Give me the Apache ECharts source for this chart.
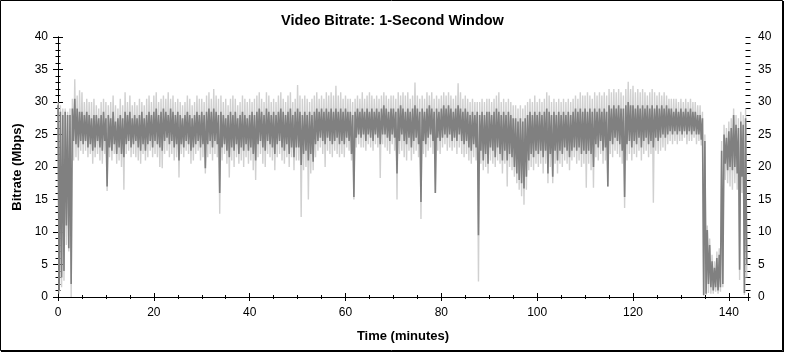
<!DOCTYPE html>
<html>
<head>
<meta charset="utf-8">
<script src="https://cdn.jsdelivr.net/npm/echarts@6.0.0/dist/echarts.min.js"></script>
<style>
html,body{margin:0;padding:0;background:#fff;}
#chart{width:785px;height:353px;}
</style>
</head>
<body>
<div id="chart"></div>
<script>
// ---- Data (Mbps), one bucket every half minute starting at t = 0 ----
const BUCKET_MINUTES = 0.5;
const titleText = 'Video Bitrate: 1-Second Window';
const xAxisName = 'Time (minutes)';
const yAxisName = 'Bitrate (Mbps)';

const darkHi = [
29.5,28.5,28,28.5,28,28,29,30.5,29,28.5,28.5,28,28.5,28,27.5,28,28,27.5,28,28.5,
27.5,28,27.5,28.5,27,27.5,28,27.5,28.5,28,28.5,27.5,28,27.5,28,28.5,27.5,28,28.5,28,
28.5,29,28,28.5,29,28.5,28,29,28.5,28,28.5,28,27.5,28,28.5,28,27.5,28,28.5,28,
28.5,28,28.5,29,28.5,29,28.5,28,28.5,28,27.5,28,28.5,28,28.5,27.5,28,28.5,28,27.5,
28,28.5,28,28.5,29,28.5,28,29,28.5,28,28.5,28,28.5,29,28.5,28,28.5,29,28,28.5,
29,28.5,28,28.5,28,28.5,28,28.5,29,28.5,29,28.5,29,28.5,29,28.5,29,28.5,29,28.5,
29,28.5,28.5,28,28.5,29,28.5,29,28.5,29,28.5,29,28.5,29,28.5,29,29.5,29,28.5,29,
29,28.5,29,29.5,29,28.5,29,28.5,29,29.5,29,28.5,29,28.5,29,29.5,29,28.5,29,28.5,
29,29.5,29,29.5,29,28.5,29,29.5,29,28.5,29,28.5,28,28.5,28,28.5,28,28.5,28,28.5,
28.5,28,28.5,29,28.5,28,28.5,28,28.5,28,27.5,27.5,27,27.5,27,27.5,28,28.5,28,28.5,
28,28.5,28,28.5,29,28.5,28,28.5,28,28.5,28,28.5,28,28.5,28,28.5,29,28.5,29,28.5,
29,28.5,29,28.5,29,28.5,29,28.5,29,28.5,29.5,29,29.5,29,29.5,29,29,29.5,30,29.5,
29.5,29,29.5,29,29.5,29,29.5,29,29.5,29,29.5,29,29.5,29,29.5,29,29,28.5,29,28.5,
29,28.5,29,28.5,29,28.5,28.5,28,28,27.5,24,10.3,8,5.5,4.5,6,6.5,22.5,25,24.5,
25.5,26,28,26.5,26,27,26.5,27.5
];
const darkLo = [
1,3,4,11,7.5,2,24,23.5,23,24,23.5,24,23,23.5,22.5,23,24,23,22.5,24,
17,23,22.5,23.5,22,23,22,21.5,23.5,24,23,23.5,24,23,22.5,23.5,22.5,23.5,24,23,
24,23.5,23,22.5,24,24.5,23.5,24,23,23.5,21,23.5,23,24,23.5,22.5,23,23.5,24,23,
23.5,19.8,23.5,24,23,24,23.5,16,23,23.5,22.5,21.5,23,22.5,23.5,22,23,22.5,23.5,22.5,
23,22,21,23.5,24,23,22.5,24,23.5,23,22,23.5,24,23,22.5,23.5,22,23,21.5,23,
23,20.3,22,22.5,21,22,20.8,23.5,24,24.5,24,23.5,24.5,24,23.5,24,24.5,23.5,24,23.5,
24.5,24,22,15.4,24.5,25,24.5,25,24,25,24.5,24,25,24.5,23.5,25,25,24.5,24,25,
24.5,19,24,25,24,23.5,24.5,23,24,24.5,23.5,14.6,24,23.5,24.5,25,24,16,24.5,24,
24.5,25,24.5,25,24,24.5,24,25,24,23.5,24,23,22.5,23.5,23,9.5,22.5,21,22,20.5,
23,22.5,21.5,23,22,21,22.5,21,22,21.5,20,19,18,17.5,16.7,18.5,21,22,21.5,22.5,
22,22.5,21.5,22.5,19,22,18.5,22.5,21,22.5,22,23,22.5,21.5,22.5,23,22.5,23,22,22.5,
22,22.5,22,20,23.5,23,24,22.5,23,17,24,23.5,24.5,24,23.5,22.5,15.4,23.5,24,23,
24,23.5,24.5,23,24,24.5,23.5,24,23,24.5,24,24.5,25,24.5,25,25.5,25,25.5,25,25.5,
25,25.5,25,25.5,25,25.5,25,25,24.2,0.3,0.5,2,1.5,1,1.5,1,1.5,2,20.5,19.5,
20,19.5,20,19,4.2,18.5,0.6,5
];
const lightHi = [
30,29.5,29,29,28.5,29,30.5,33.5,31,31.8,31.5,30,30.5,30,30,30.5,29.5,29,30,30.5,
30,29.5,30,31,29.5,29,30.5,29.5,31.5,30,31,29.5,30,29.5,30.5,30,29.5,30.5,31,30,
31,31.5,30,30.5,31,30.5,31.5,30.5,31,30,30.5,30,29.5,30,31,30.5,29.5,30,31,30.5,
30.5,30,31,31.5,30.5,32,31,30.5,31,30,30.5,29.5,30.5,31,30.5,29.5,30,31,30.5,30,
30.5,30,30.5,31,31.5,30.5,30,31.5,31,30,30.5,30,31,31.5,30.5,30,31,31.5,30,30.5,
32.6,31,30.5,31,30.5,30,30.5,31,31.5,30.5,31,30.5,31.5,31,31.5,31,32.5,31,31.5,30.5,
31,30.5,30.5,30,30.5,31,30.5,31.5,30.5,31,31.5,31,30.5,31,30.5,31,31.5,31,30.5,31,
31,30.5,31.5,31,31.5,31,31.5,30.5,31,33,31,30.5,31,30.5,31.5,31,31.5,30.5,31,30.5,
31,31.5,31,31.5,31,30.5,31,32.9,31.5,30.5,31,30.5,30,30.5,30,30,30,30.5,30,30.5,
30.5,30,30.5,31,31.5,30,30.5,30,30.5,30,29.5,29.5,29,29.5,29,29.5,30,30.5,30,31,
30,30.5,30,30.5,31.5,31,30,30.5,30,30.5,30,30.5,30,30.5,30,30.5,31,30.5,31.5,31,
31,31.5,31,30.5,31.5,31,31.5,31,31.5,31,32,31.5,32,31.5,32,31.5,31,32,33.1,32,
32.5,31.5,32,31.5,32,31.5,31,31.5,32,31.5,31,31.5,31,31.5,31,30.5,30.5,30.5,30.5,30,
30.5,30,30.5,30,30.5,30,30,29.5,29.5,28.5,25,11,9,6.5,5.5,7,7.5,24,26.5,26,
27,27.5,29,28,27.5,28.5,28,29
];
const lightLo = [
0.5,1.5,2.5,8,7,0,21,21.5,21,22.5,22,22.5,21.5,22,20.5,21.5,22,21,20.5,22,
16.3,21.5,21,22,20.5,21,20,16.5,22,22.5,21.5,22,21.5,21,20.5,22,21,21.5,22.5,21.5,
22,21.5,20,19.8,22,22.5,21.5,22,21,21.5,18.4,22,21.5,22.5,22,20.5,21,22,22.5,21,
21.5,19,21.5,22,21,22,21.5,12.8,21,22,20.5,18.4,21,20,21.5,20.5,21,20,21.5,20.5,
21,19.5,18,21.5,22,20.5,20,22,21.5,21,19.5,21.5,22,21,20.5,21.5,20,21.5,19.5,21,
21,12.3,19.5,20,15,19,19.5,21.5,22.5,23,22,20,22.5,22,21.5,22.5,22,21.5,22,21.5,
23,22.5,21,15,23,23.5,23,23,22.5,23.5,23,22.5,23.5,23,18.3,23.5,23,22.5,22,23.5,
22.5,15,22,22.5,21.5,21,22.5,21,22,22.5,21.5,12,22,21.5,22.5,23,22,16,22.5,22,
23,23.5,22.5,23,22.5,23,22,23,22,21.5,22,21,20.5,21.5,21,2.4,20.5,19.5,20,19,
21,20.5,20,21,20.5,19,20.5,17,20,19.5,18.5,17.5,16.5,15.5,14.2,16.5,19.5,20,19.5,20.5,
20,20.5,19,20.5,17.5,20,17.5,20.5,19,20.5,20,21,20.5,19.5,21,21.5,20.5,21,20,20.5,
16.8,20.5,19.5,16.8,21.5,21,22,20.5,21,17,22,21.5,22.5,22,21.5,20.5,13.7,21,22,21,
22,21.5,22.5,21,22,22.5,21.5,22,14.5,22.5,22,22.5,23,22.5,23.5,24,23.5,24,23.5,24,
24,24.5,23.5,24,24,24.5,23.5,24,23.3,0.2,0.3,0.6,0.5,0.5,0.8,0.5,0.8,1.5,18,17.5,
17,16.5,17.5,16.5,2.6,16,0.3,3
];

const xTicks = {min: 0, max: 144, major: 20, minor: 5};
const yTicks = {min: 0, max: 40, major: 5, minor: 1};

[darkLo, lightHi, lightLo].forEach(function (a, k) {
  if (a.length !== darkHi.length) throw new Error('length mismatch ' + k + ': ' + a.length + ' vs ' + darkHi.length);
});

// zig-zag each bucket between its high and low reading
function zigzag(hi, lo) {
  const out = [];
  for (let i = 0; i < hi.length; i++) {
    const t = i * BUCKET_MINUTES;
    out.push([t, hi[i]]);
    out.push([t + BUCKET_MINUTES / 2, lo[i]]);
  }
  return out;
}

const FONT = '"Liberation Sans", Arial, sans-serif';
const black = '#000';

function xAx(opts) {
  return Object.assign({
    type: 'value', gridIndex: 0, min: xTicks.min, max: xTicks.max,
    interval: xTicks.major, position: 'bottom',
    axisLine: {show: false, lineStyle: {color: black, width: 1}},
    axisTick: {show: true, inside: false, length: 4, lineStyle: {color: black, width: 1}},
    axisLabel: {show: false},
    splitLine: {show: false},
    minorTick: {show: false}
  }, opts);
}
function yAx(opts) {
  return Object.assign({
    type: 'value', gridIndex: 0, min: yTicks.min, max: yTicks.max,
    interval: yTicks.major, position: 'left',
    axisLine: {show: false, lineStyle: {color: black, width: 1}},
    axisTick: {show: true, inside: false, length: 5, lineStyle: {color: black, width: 1}},
    axisLabel: {show: false},
    splitLine: {show: false},
    minorTick: {show: false}
  }, opts);
}

const labelStyle = {show: true, color: black, fontSize: 12, fontFamily: FONT};

const option = {
  animation: false,
  backgroundColor: '#fff',
  title: {
    text: titleText, left: 'center', top: 8,
    textStyle: {fontFamily: FONT, fontSize: 14.5, fontWeight: 'bold', color: black}
  },
  grid: {left: 58, right: 37, top: 37, bottom: 56, containLabel: false, outerBoundsMode: 'none'},
  xAxis: [
    xAx({
      axisLine: {show: true, lineStyle: {color: black, width: 1}},
      axisLabel: Object.assign({}, labelStyle, {margin: 10, showMaxLabel: false,
        formatter: function (v) { return v > 140 ? '' : String(v); }}),
      name: xAxisName, nameLocation: 'middle', nameGap: 33,
      nameTextStyle: {fontFamily: FONT, fontSize: 13, fontWeight: 'bold', color: black}
    }),
    xAx({axisTick: {show: true, inside: true, length: 4, lineStyle: {color: black}}}),
    xAx({interval: xTicks.minor, axisTick: {show: true, inside: false, length: 2, lineStyle: {color: black}}}),
    xAx({interval: xTicks.minor, axisTick: {show: true, inside: true, length: 2, lineStyle: {color: black}}}),
    xAx({position: 'top', axisLine: {show: true, lineStyle: {color: black, width: 1}},
      axisTick: {show: true, inside: true, length: 4, lineStyle: {color: black}}}),
    xAx({position: 'top', interval: xTicks.minor,
      axisTick: {show: true, inside: true, length: 2, lineStyle: {color: black}}})
  ],
  yAxis: [
    yAx({
      axisLine: {show: true, lineStyle: {color: black, width: 1}},
      axisLabel: Object.assign({}, labelStyle, {margin: 10}),
      name: yAxisName, nameLocation: 'middle', nameGap: 34, nameRotate: 90,
      nameTextStyle: {fontFamily: FONT, fontSize: 13, fontWeight: 'bold', color: black}
    }),
    yAx({axisTick: {show: true, inside: true, length: 5, lineStyle: {color: black}}}),
    yAx({interval: yTicks.minor, axisTick: {show: true, inside: false, length: 2.5, lineStyle: {color: black}}}),
    yAx({interval: yTicks.minor, axisTick: {show: true, inside: true, length: 2.5, lineStyle: {color: black}}}),
    yAx({position: 'right', axisLine: {show: true, lineStyle: {color: black, width: 1}},
      axisTick: {show: true, inside: false, length: 4, lineStyle: {color: black}},
      axisLabel: Object.assign({}, labelStyle, {margin: 10})}),
    yAx({position: 'right', axisTick: {show: true, inside: true, length: 4, lineStyle: {color: black}}}),
    yAx({position: 'right', interval: yTicks.minor,
      axisTick: {show: true, inside: false, length: 2.5, lineStyle: {color: black}}}),
    yAx({position: 'right', interval: yTicks.minor,
      axisTick: {show: true, inside: true, length: 2.5, lineStyle: {color: black}}})
  ],
  series: [
    {
      type: 'line', name: 'range', xAxisIndex: 0, yAxisIndex: 0,
      data: zigzag(lightHi, lightLo), showSymbol: false, symbol: 'none',
      sampling: false, smooth: false, z: 2,
      lineStyle: {color: '#d0d0d0', width: 1.4}
    },
    {
      type: 'line', name: 'core', xAxisIndex: 0, yAxisIndex: 0,
      data: zigzag(darkHi, darkLo), showSymbol: false, symbol: 'none',
      sampling: false, smooth: false, z: 3,
      lineStyle: {color: '#808080', width: 1.6}
    }
  ],
  graphic: [
    {type: 'rect', silent: true, z: 100,
      shape: {x: 0.5, y: 0.5, width: 782, height: 350},
      style: {fill: 'none', stroke: black, lineWidth: 1}},
    {type: 'rect', silent: true, z: 100,
      shape: {x: 783, y: 1, width: 1, height: 351},
      style: {fill: black}},
    {type: 'rect', silent: true, z: 100,
      shape: {x: 1, y: 351, width: 783, height: 1},
      style: {fill: black}}
  ]
};

const chart = echarts.init(document.getElementById('chart'), null, {renderer: 'canvas', width: 785, height: 353});
chart.setOption(option);
</script>
</body>
</html>
